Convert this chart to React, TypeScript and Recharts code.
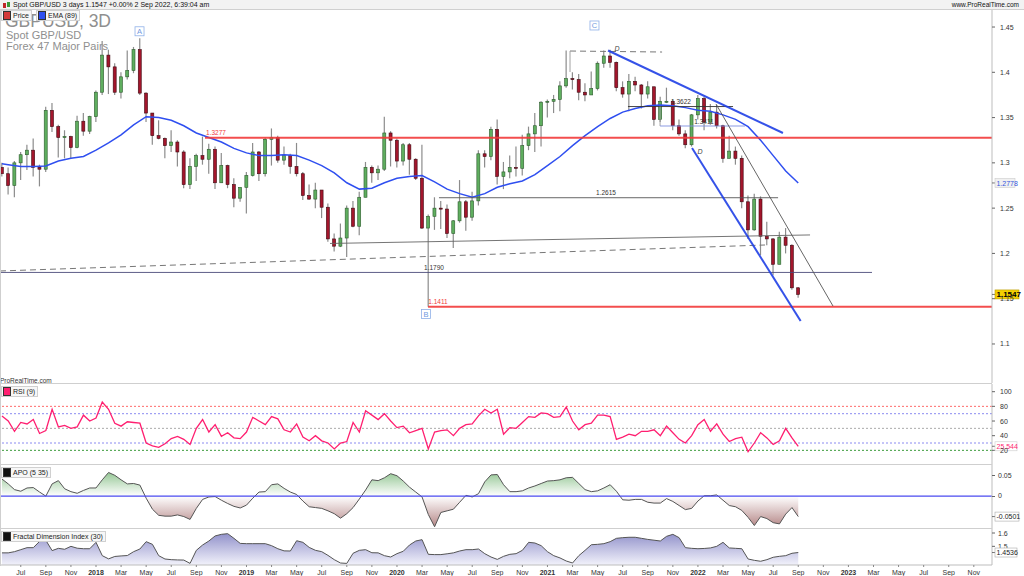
import React from 'react';
import { ComposedChart, Bar, Line, Area, XAxis, YAxis, ReferenceLine, ReferenceDot } from 'recharts';

// time axis: months since Jan 2017, one candle per half month
const T0 = 4.5;
const STEP = 0.5;
const XMIN = 4.344;
const XMAX = 83.45;

const opens = [
  1.295, 1.288, 1.275, 1.300, 1.309, 1.314, 1.295, 1.293, 1.358, 1.340, 1.328, 1.329, 1.317, 1.346, 1.335,
  1.351, 1.378, 1.419, 1.406, 1.378, 1.395, 1.402, 1.425, 1.377, 1.355, 1.330, 1.327, 1.319, 1.323, 1.312, 1.276, 1.296, 1.308, 1.304, 1.315, 1.278, 1.297, 1.276, 1.261,
  1.273, 1.286, 1.312, 1.288, 1.326, 1.328, 1.303, 1.308, 1.296, 1.288, 1.264, 1.260, 1.270, 1.251, 1.216, 1.208, 1.217, 1.250, 1.230, 1.262, 1.295, 1.289, 1.293, 1.333,
  1.325, 1.302, 1.320, 1.304, 1.283, 1.228, 1.241, 1.250, 1.249, 1.222, 1.236, 1.257, 1.240, 1.258, 1.310, 1.307, 1.337, 1.285, 1.290, 1.295, 1.294, 1.319, 1.332, 1.341,
  1.367, 1.368, 1.370, 1.385, 1.393, 1.392, 1.378, 1.375, 1.382, 1.410, 1.418, 1.411, 1.383, 1.376, 1.390, 1.386, 1.376, 1.384, 1.348, 1.368, 1.368, 1.341, 1.332, 1.320,
  1.353, 1.371, 1.345, 1.356, 1.341, 1.305, 1.313, 1.305, 1.257, 1.226, 1.260, 1.219, 1.216, 1.188, 1.218, 1.209, 1.162,
];
const highs = [
  1.300, 1.295, 1.302, 1.312, 1.320, 1.327, 1.298, 1.362, 1.366, 1.342, 1.336, 1.330, 1.352, 1.355, 1.352,
  1.380, 1.4345, 1.425, 1.410, 1.400, 1.424, 1.428, 1.4377, 1.378, 1.355, 1.347, 1.328, 1.336, 1.325, 1.314, 1.305, 1.310, 1.329, 1.321, 1.318, 1.311, 1.298, 1.283, 1.272,
  1.290, 1.322, 1.313, 1.328, 1.338, 1.330, 1.318, 1.310, 1.322, 1.290, 1.276, 1.278, 1.270, 1.255, 1.222, 1.233, 1.253, 1.258, 1.268, 1.301, 1.297, 1.297, 1.351, 1.335,
  1.327, 1.322, 1.322, 1.305, 1.320, 1.243, 1.262, 1.258, 1.254, 1.237, 1.281, 1.259, 1.268, 1.314, 1.314, 1.340, 1.348, 1.301, 1.308, 1.318, 1.331, 1.340, 1.355, 1.368,
  1.370, 1.375, 1.390, 1.4241, 1.400, 1.398, 1.388, 1.401, 1.412, 1.424, 1.4249, 1.412, 1.390, 1.398, 1.395, 1.387, 1.390, 1.384, 1.373, 1.383, 1.370, 1.348, 1.336, 1.354,
  1.3749, 1.373, 1.365, 1.364, 1.342, 1.330, 1.318, 1.308, 1.264, 1.266, 1.263, 1.235, 1.217, 1.224, 1.228, 1.210, 1.163,
];
const lows = [
  1.285, 1.265, 1.262, 1.281, 1.292, 1.285, 1.274, 1.290, 1.334, 1.306, 1.305, 1.305, 1.316, 1.330, 1.332,
  1.345, 1.375, 1.376, 1.375, 1.371, 1.392, 1.399, 1.375, 1.345, 1.320, 1.326, 1.305, 1.312, 1.296, 1.272, 1.271, 1.280, 1.298, 1.288, 1.271, 1.278, 1.272, 1.251, 1.257,
  1.244, 1.285, 1.280, 1.285, 1.297, 1.300, 1.298, 1.288, 1.285, 1.259, 1.259, 1.250, 1.239, 1.213, 1.202, 1.207, 1.196, 1.229, 1.220, 1.262, 1.278, 1.281, 1.291, 1.296,
  1.295, 1.297, 1.287, 1.281, 1.227, 1.1411, 1.226, 1.227, 1.217, 1.206, 1.234, 1.225, 1.236, 1.253, 1.295, 1.303, 1.276, 1.271, 1.283, 1.285, 1.286, 1.314, 1.312, 1.318,
  1.350, 1.355, 1.357, 1.383, 1.381, 1.369, 1.368, 1.375, 1.380, 1.405, 1.405, 1.379, 1.372, 1.357, 1.379, 1.360, 1.371, 1.341, 1.345, 1.366, 1.336, 1.330, 1.316, 1.318,
  1.348, 1.336, 1.342, 1.338, 1.300, 1.305, 1.298, 1.250, 1.216, 1.225, 1.198, 1.209, 1.176, 1.188, 1.200, 1.160, 1.151,
];
const closes = [
  1.288, 1.275, 1.300, 1.309, 1.314, 1.295, 1.293, 1.358, 1.340, 1.328, 1.329, 1.317, 1.346, 1.335, 1.351,
  1.378, 1.419, 1.406, 1.378, 1.395, 1.402, 1.425, 1.377, 1.355, 1.330, 1.327, 1.319, 1.323, 1.312, 1.276, 1.296, 1.308, 1.304, 1.315, 1.278, 1.297, 1.276, 1.261, 1.273,
  1.286, 1.312, 1.288, 1.326, 1.328, 1.303, 1.308, 1.296, 1.288, 1.264, 1.260, 1.270, 1.251, 1.216, 1.208, 1.217, 1.250, 1.230, 1.262, 1.295, 1.289, 1.293, 1.333, 1.325,
  1.302, 1.320, 1.304, 1.283, 1.228, 1.241, 1.250, 1.249, 1.222, 1.236, 1.257, 1.240, 1.258, 1.310, 1.307, 1.337, 1.285, 1.290, 1.295, 1.294, 1.319, 1.332, 1.341, 1.367,
  1.368, 1.370, 1.385, 1.393, 1.392, 1.378, 1.375, 1.382, 1.410, 1.418, 1.411, 1.383, 1.376, 1.390, 1.386, 1.376, 1.384, 1.348, 1.368, 1.368, 1.341, 1.332, 1.320, 1.353,
  1.371, 1.345, 1.356, 1.341, 1.305, 1.313, 1.305, 1.257, 1.226, 1.260, 1.219, 1.216, 1.188, 1.218, 1.209, 1.162, 1.1547,
];

// EMA(89), read once a month (t = 5 .. 68), plus first point at t = 4.5
const emaFirst = 1.299;
const emaMonthly = [
  1.298, 1.296, 1.296, 1.2965, 1.302, 1.305, 1.307,
  1.314, 1.322, 1.331, 1.342, 1.351, 1.350, 1.347, 1.341, 1.333, 1.328, 1.323, 1.316,
  1.311, 1.308, 1.308, 1.309, 1.308, 1.303, 1.297, 1.289, 1.278, 1.271, 1.272, 1.278,
  1.283, 1.285, 1.286, 1.279, 1.271, 1.266, 1.262, 1.266, 1.273, 1.277, 1.280, 1.287,
  1.297, 1.307, 1.319, 1.330, 1.340, 1.349, 1.356, 1.360, 1.363, 1.364, 1.363, 1.361,
  1.358, 1.357, 1.353, 1.348, 1.340, 1.325, 1.308, 1.291, 1.2778,
];

const rsi = [
  67, 60, 46, 58, 56, 62, 43, 47, 76, 52, 54, 50, 52, 68, 60, 64, 86, 76, 57, 53,
  59, 58, 57, 30, 26, 24, 29, 36, 39, 35, 28, 50, 62, 45, 55, 39, 44, 37, 36, 45,
  65, 60, 55, 66, 63, 48, 45, 56, 38, 33, 40, 33, 30, 22, 30, 32, 58, 45, 74, 68,
  62, 70, 60, 51, 53, 44, 47, 50, 22, 45, 47, 48, 40, 50, 55, 56, 67, 76, 71, 76,
  42, 51, 50, 58, 66, 65, 71, 70, 65, 66, 79, 60, 48, 55, 57, 68, 68, 66, 35, 38,
  42, 40, 46, 46, 48, 40, 53, 44, 35, 30, 40, 55, 62, 46, 56, 42, 32, 36, 38, 18,
  30, 44, 37, 28, 33, 50, 37, 25.544,
];
const apo = [
  0.042, 0.030, 0.016, 0.012, 0.020, 0.021, 0.010, 0.000, 0.030, 0.038,
  0.018, 0.011, 0.007, 0.014, 0.020, 0.020, 0.040, 0.058, 0.051, 0.040,
  0.030, 0.031, 0.027, -0.005, -0.032, -0.047, -0.049, -0.049, -0.046, -0.050,
  -0.057, -0.030, -0.008, -0.002, -0.001, -0.010, -0.018, -0.025, -0.029, -0.022,
  -0.005, 0.010, 0.011, 0.028, 0.030, 0.019, 0.010, 0.004, -0.012, -0.026,
  -0.028, -0.030, -0.036, -0.043, -0.054, -0.043, -0.028, -0.007, 0.015, 0.040,
  0.038, 0.045, 0.055, 0.050, 0.037, 0.022, 0.010, -0.002, -0.045, -0.075,
  -0.040, -0.036, -0.032, -0.015, 0.002, -0.002, 0.006, 0.035, 0.052, 0.053,
  0.028, 0.011, 0.011, 0.013, 0.020, 0.025, 0.031, 0.037, 0.038, 0.040,
  0.045, 0.046, 0.031, 0.016, 0.011, 0.013, 0.020, 0.028, 0.012, -0.009,
  -0.010, -0.008, -0.008, -0.015, -0.017, -0.017, -0.006, -0.013, -0.023, -0.033,
  -0.030, -0.012, 0.001, 0.001, 0.003, -0.010, -0.023, -0.026, -0.035, -0.052,
  -0.072, -0.050, -0.055, -0.065, -0.068, -0.044, -0.028, -0.0501,
];
const fdi = [
  1.451, 1.451, 1.460, 1.475, 1.490, 1.490, 1.537, 1.545, 1.468, 1.485,
  1.478, 1.500, 1.486, 1.482, 1.482, 1.530, 1.430, 1.406, 1.424, 1.428,
  1.431, 1.460, 1.480, 1.535, 1.515, 1.430, 1.405, 1.400, 1.398, 1.397,
  1.372, 1.470, 1.510, 1.540, 1.578, 1.590, 1.595, 1.560, 1.522, 1.520,
  1.520, 1.520, 1.520, 1.505, 1.482, 1.466, 1.465, 1.542, 1.530, 1.492,
  1.470, 1.460, 1.432, 1.400, 1.375, 1.372, 1.448, 1.470, 1.475, 1.452,
  1.451, 1.430, 1.420, 1.445, 1.463, 1.510, 1.540, 1.550, 1.440, 1.438,
  1.438, 1.444, 1.451, 1.465, 1.475, 1.475, 1.480, 1.445, 1.420, 1.402,
  1.425, 1.440, 1.445, 1.470, 1.530, 1.525, 1.505, 1.460, 1.430, 1.413,
  1.390, 1.375, 1.430, 1.470, 1.512, 1.515, 1.520, 1.535, 1.560, 1.565,
  1.568, 1.568, 1.560, 1.552, 1.546, 1.540, 1.575, 1.590, 1.565, 1.490,
  1.485, 1.482, 1.484, 1.488, 1.500, 1.530, 1.488, 1.485, 1.482, 1.405,
  1.395, 1.388, 1.400, 1.418, 1.425, 1.430, 1.448, 1.4536,
];

const xTicks = Array.from({ length: 39 }, (_, i) => 6 + i * 2);
const xTickLabels = [
  'Jul', 'Sep', 'Nov',
  '2018', 'Mar', 'May', 'Jul', 'Sep', 'Nov',
  '2019', 'Mar', 'May', 'Jul', 'Sep', 'Nov',
  '2020', 'Mar', 'May', 'Jul', 'Sep', 'Nov',
  '2021', 'Mar', 'May', 'Jul', 'Sep', 'Nov',
  '2022', 'Mar', 'May', 'Jul', 'Sep', 'Nov',
  '2023', 'Mar', 'May', 'Jul', 'Sep', 'Nov',
];
const priceTicks = [1.1, 1.15, 1.2, 1.25, 1.3, 1.35, 1.4, 1.45];
const rsiTicks = [20, 40, 60, 80, 100];
const apoTicks = [0.05, 0];
const apoTickLabels = ['0.05', '0'];
const fdiTicks = [1.6, 1.5];
const fdiTickLabels = ['1.6', '1.5'];

// panel geometry (pixels) and value domains
const APO_TOP = 465;
const APO_H = 64;
const APO_DOMAIN: [number, number] = [-0.0805, 0.0763];

// drawn annotations (time in months since Jan 2017, price)
const solidLines = [
  { x1: 20.69, y1: 1.3277, x2: XMAX, y2: 1.3277, color: '#f23a3a', w: 2 },
  { x1: 38.48, y1: 1.1411, x2: XMAX, y2: 1.1411, color: '#f23a3a', w: 2 },
  { x1: XMIN, y1: 1.179, x2: 73.88, y2: 1.179, color: '#4a4a7a', w: 1 },
  { x1: 39.35, y1: 1.2615, x2: 66.39, y2: 1.2615, color: '#555555', w: 1 },
  { x1: 30.66, y1: 1.211, x2: 68.94, y2: 1.2204, color: '#666666', w: 1 },
  { x1: 54.42, y1: 1.3622, x2: 62.8, y2: 1.3622, color: '#333333', w: 1 },
  { x1: 56.98, y1: 1.3622, x2: 56.98, y2: 1.3407, color: '#999999', w: 1 },
  { x1: 56.98, y1: 1.3407, x2: 63.75, y2: 1.3407, color: '#7f8fe0', w: 1 },
  { x1: 49.8, y1: 1.4235, x2: 49.8, y2: 1.4003, color: '#999999', w: 1 },
  { x1: 52.83, y1: 1.4241, x2: 66.78, y2: 1.333, color: '#1f3fe6', w: 2 },
  { x1: 59.53, y1: 1.3164, x2: 68.19, y2: 1.1254, color: '#1f3fe6', w: 2 },
  { x1: 61.44, y1: 1.365, x2: 70.77, y2: 1.1419, color: '#555555', w: 1 },
];
const dashedLines = [
  { x1: XMIN, y1: 1.1806, x2: 65.35, y2: 1.2093 },
  { x1: 49.8, y1: 1.4235, x2: 57.14, y2: 1.4224 },
];
const levelLabels = [
  { t: 21.57, p: 1.3277, text: '1.3277', color: '#f23a3a' },
  { t: 39.27, p: 1.1411, text: '1.1411', color: '#f23a3a' },
  { t: 38.95, p: 1.179, text: '1.1790', color: '#333333' },
  { t: 52.67, p: 1.2615, text: '1.2615', color: '#333333' },
  { t: 58.65, p: 1.3622, text: '1.3622', color: '#333333' },
  { t: 60.48, p: 1.3407, text: '1.3411', color: '#333333' },
];
const waveBoxes = [
  { t: 15.47, p: 1.4453, text: 'A' },
  { t: 38.32, p: 1.1331, text: 'B' },
  { t: 51.75, p: 1.4517, text: 'C' },
];
const waveMarks = [
  { t: 53.55, p: 1.4268, text: 'D' },
  { t: 60.16, p: 1.312, text: 'D' },
];

const FONT = '"Liberation Sans", Arial, sans-serif';

const priceRows = opens.map((o, i) => {
  const t = T0 + STEP * i;
  let ema: number | undefined;
  if (i === 0) ema = emaFirst;
  else if (Number.isInteger(t)) ema = emaMonthly[t - 5];
  return { t, open: o, high: highs[i], low: lows[i], close: closes[i], range: [lows[i], highs[i]], ema };
});
const rsiRows = rsi.map((v, i) => ({ t: T0 + STEP * i, v }));
const apoRows = apo.map((v, i) => ({ t: T0 + STEP * i, v }));
const fdiRows = fdi.map((v, i) => ({ t: T0 + STEP * i, v }));

const apoMax = Math.max(...apo);
const apoMin = Math.min(...apo);
const apoOff = apoMax / (apoMax - apoMin);
const apoScale = (v: number) => APO_TOP + ((APO_DOMAIN[1] - v) / (APO_DOMAIN[1] - APO_DOMAIN[0])) * APO_H;

const Candle = (props: any) => {
  const { x, y, width, height, payload } = props;
  if (!payload) return null;
  const { open, close, high, low } = payload;
  const top = Math.min(y, y + height);
  const h = Math.abs(height);
  const k = high - low > 0 ? h / (high - low) : 0;
  const yO = top + (high - open) * k;
  const yC = top + (high - close) * k;
  const cx = x + width / 2;
  const up = close >= open;
  const bw = 3;
  return (
    <g>
      <line x1={cx} x2={cx} y1={top} y2={top + h} stroke="#8c8c8c" strokeWidth={1.2} />
      <rect
        x={cx - bw / 2}
        y={Math.min(yO, yC)}
        width={bw}
        height={Math.max(1, Math.abs(yC - yO))}
        fill={up ? '#5fae5f' : '#a3162c'}
        stroke={up ? '#2c5a2c' : '#3e0810'}
        strokeWidth={0.6}
      />
    </g>
  );
};

const YTick = (fmt?: (v: number) => string) => (p: any) => (
  <text x={p.x + 3} y={p.y + 2.5} fontSize={7} fill="#333" fontFamily={FONT}>
    {fmt ? fmt(p.payload.value) : String(p.payload.value)}
  </text>
);

const axisTickMark = (text: string) => (p: any) => (
  <g>
    <line x1={p.cx} x2={p.cx + 3} y1={p.cy} y2={p.cy} stroke="#666" strokeWidth={1} />
    <text x={p.cx + 6} y={p.cy + 2.5} fontSize={7} fill="#333" fontFamily={FONT}>
      {text}
    </text>
  </g>
);

const XTick = (p: any) => {
  const idx = xTicks.indexOf(p.payload.value);
  const label = xTickLabels[idx] ?? '';
  const bold = /^\d{4}$/.test(label);
  return (
    <text x={p.x} y={p.y + 6} textAnchor="middle" fontSize={7} fontWeight={bold ? 700 : 400} fill="#333" fontFamily={FONT}>
      {label}
    </text>
  );
};

const axisBox = (text: string, bg: string, color: string, border: string, bold = false, w = 24) => (p: any) => (
  <g>
    <line x1={p.cx} x2={p.cx + 3} y1={p.cy} y2={p.cy} stroke="#555" strokeWidth={0.8} />
    <rect x={p.cx + 3} y={p.cy - 4.5} width={w} height={9} fill={bg} stroke={border} strokeWidth={0.6} />
    <text x={p.cx + 4.5} y={p.cy + 2.6} fontSize={bold ? 8 : 7} fontWeight={bold ? 700 : 400} fill={color} fontFamily={FONT}>
      {text}
    </text>
  </g>
);

const yAxisCommon = {
  orientation: 'right' as const,
  width: 32,
  tickSize: 3,
  tickLine: { stroke: '#666' },
  axisLine: { stroke: '#bdbdbd' },
  interval: 0 as const,
  allowDataOverflow: true,
};

const Legend = ({ left, top, color, text }: { left: number; top: number; color: string; text: string }) => (
  <div
    style={{
      position: 'absolute', left, top, height: 9, padding: '0 2px 0 1px', border: '1px solid #d0d0d0', background: '#f7f7f7',
      display: 'flex', alignItems: 'center', fontSize: 7, color: '#222', fontFamily: FONT, lineHeight: '9px', whiteSpace: 'nowrap',
    }}
  >
    <span style={{ display: 'inline-block', width: 6, height: 7, background: color, marginRight: 2, border: '0.5px solid #333' }} />
    {text}
  </div>
);

export default function App() {
  return (
    <div style={{ position: 'fixed', left: 0, top: 0, width: 1024, height: 576, background: '#fff', overflow: 'hidden', fontFamily: FONT }}>
      {/* header strip */}
      <div style={{ position: 'absolute', left: 0, top: 0, width: 1024, height: 9, background: '#f2f2f2', borderBottom: '1px solid #cfcfcf' }} />
      <svg style={{ position: 'absolute', left: 2, top: 1 }} width={10} height={8}>
        <rect x={1} y={2} width={3} height={5} fill="#c0282a" />
        <rect x={5} y={1} width={3} height={5} fill="#3a9a3a" />
      </svg>
      <div style={{ position: 'absolute', left: 13, top: 0, fontSize: 7, lineHeight: '9px', color: '#111', whiteSpace: 'nowrap' }}>
        Spot GBP/USD 3 days 1.1547 +0.00% 2 Sep 2022, 6:39:04 am
      </div>
      <div style={{ position: 'absolute', right: 5, top: 0, fontSize: 6.5, lineHeight: '9px', color: '#111', whiteSpace: 'nowrap' }}>
        www.ProRealTime.com
      </div>

      {/* watermark */}
      <div style={{ position: 'absolute', left: 5, top: 11, fontSize: 17.5, color: '#8f8f8f', whiteSpace: 'nowrap', lineHeight: '20px' }}>GBPUSD, 3D</div>
      <div style={{ position: 'absolute', left: 6, top: 29, fontSize: 11, color: '#8f8f8f', whiteSpace: 'nowrap', lineHeight: '12px' }}>Spot GBP/USD</div>
      <div style={{ position: 'absolute', left: 6, top: 40, fontSize: 11, color: '#8f8f8f', whiteSpace: 'nowrap', lineHeight: '12px' }}>Forex 47 Major Pairs</div>

      {/* main price panel */}
      <div style={{ position: 'absolute', left: 0, top: 10 }}>
        <ComposedChart width={1024} height={373} data={priceRows} margin={{ top: 0, right: 0, bottom: 0, left: 0 }}>
          <XAxis dataKey="t" type="number" domain={[XMIN, XMAX]} hide allowDataOverflow />
          <YAxis {...yAxisCommon} domain={[1.0569, 1.4688]} ticks={priceTicks} tick={YTick((v) => String(v))} />
          <Bar dataKey="range" barSize={4} shape={Candle} isAnimationActive={false} />
          <Line dataKey="ema" stroke="#2f4ff0" strokeWidth={1.5} dot={false} connectNulls isAnimationActive={false} />
          {dashedLines.map((l, i) => (
            <ReferenceLine key={'d' + i} segment={[{ x: l.x1, y: l.y1 }, { x: l.x2, y: l.y2 }]} stroke="#777" strokeWidth={1} strokeDasharray="6 4" ifOverflow="visible" />
          ))}
          {solidLines.map((l, i) => (
            <ReferenceLine key={'s' + i} segment={[{ x: l.x1, y: l.y1 }, { x: l.x2, y: l.y2 }]} stroke={l.color} strokeWidth={l.w} strokeOpacity={0.9} ifOverflow="visible" />
          ))}
          {levelLabels.map((l, i) => (
            <ReferenceDot
              key={'l' + i}
              x={l.t}
              y={l.p}
              r={0}
              ifOverflow="visible"
              shape={(p: any) => (
                <text x={p.cx} y={p.cy - 2.5} textAnchor="middle" fontSize={6.5} fill={l.color} fontFamily={FONT}>
                  {l.text}
                </text>
              )}
            />
          ))}
          {waveBoxes.map((l, i) => (
            <ReferenceDot
              key={'w' + i}
              x={l.t}
              y={l.p}
              r={0}
              ifOverflow="visible"
              shape={(p: any) => (
                <g>
                  <rect x={p.cx - 4.5} y={p.cy - 4.5} width={9} height={9} fill="#fff" stroke="#8fb0e8" strokeWidth={0.8} />
                  <text x={p.cx} y={p.cy + 3} textAnchor="middle" fontSize={7.5} fill="#6f9ae0" fontFamily={FONT}>
                    {l.text}
                  </text>
                </g>
              )}
            />
          ))}
          {waveMarks.map((l, i) => (
            <ReferenceDot
              key={'m' + i}
              x={l.t}
              y={l.p}
              r={0}
              ifOverflow="visible"
              shape={(p: any) => (
                <text x={p.cx} y={p.cy + 2.5} textAnchor="middle" fontSize={7} fontStyle="italic" fill="#444" fontFamily={FONT}>
                  {l.text}
                </text>
              )}
            />
          ))}
          <ReferenceDot x={XMAX} y={1.2778} r={0} ifOverflow="visible" shape={axisBox('1.2778', '#f0f0f0', '#3355dd', '#cccccc', false, 20)} />
          <ReferenceDot x={XMAX} y={1.1547} r={0} ifOverflow="visible" shape={axisBox('1.1547', '#f5d000', '#000', '#b89c00', true, 24)} />
        </ComposedChart>
      </div>
      <div style={{ position: 'absolute', left: 0, top: 377, fontSize: 6.5, color: '#333', lineHeight: '7px', whiteSpace: 'nowrap' }}>ProRealTime.com</div>

      {/* RSI panel */}
      <div style={{ position: 'absolute', left: 0, top: 384 }}>
        <ComposedChart width={1024} height={81} data={rsiRows} margin={{ top: 0, right: 0, bottom: 0, left: 0 }}>
          <XAxis dataKey="t" type="number" domain={[XMIN, XMAX]} hide allowDataOverflow />
          <YAxis {...yAxisCommon} domain={[0, 110.5]} ticks={rsiTicks} tick={YTick()} />
          <ReferenceLine y={80} stroke="#ff6a6a" strokeDasharray="2 2" />
          <ReferenceLine y={70} stroke="#8a8af0" strokeDasharray="2 2" />
          <ReferenceLine y={50} stroke="#aaaaaa" strokeDasharray="2 2" />
          <ReferenceLine y={30} stroke="#8a8af0" strokeDasharray="2 2" />
          <ReferenceLine y={20} stroke="#3a9a3a" strokeDasharray="2 2" />
          <Line dataKey="v" stroke="#ff1f70" strokeWidth={1.3} dot={false} isAnimationActive={false} />
          <ReferenceDot x={XMAX} y={25.544} r={0} ifOverflow="visible" shape={axisBox('25.544', '#fff', '#ff1f70', '#cccccc', false, 22)} />
        </ComposedChart>
      </div>

      {/* APO panel */}
      <div style={{ position: 'absolute', left: 0, top: APO_TOP }}>
        <ComposedChart width={1024} height={APO_H} data={apoRows} margin={{ top: 0, right: 0, bottom: 0, left: 0 }}>
          <defs>
            <linearGradient id="apoGrad" x1="0" y1="0" x2="0" y2="1">
              <stop offset={0} stopColor="#8fc48f" stopOpacity={0.95} />
              <stop offset={apoOff} stopColor="#ffffff" stopOpacity={0.9} />
              <stop offset={1} stopColor="#b07f7f" stopOpacity={0.95} />
            </linearGradient>
          </defs>
          <XAxis dataKey="t" type="number" domain={[XMIN, XMAX]} hide allowDataOverflow />
          <YAxis {...yAxisCommon} domain={APO_DOMAIN} ticks={apoTicks} tick={false} tickLine={false} />
          <Area dataKey="v" baseValue={0} stroke="#555" strokeWidth={1} fill="url(#apoGrad)" fillOpacity={1} dot={false} isAnimationActive={false} />
          <ReferenceLine y={0} stroke="#4b4bf0" strokeWidth={1.2} />
          <ReferenceDot x={XMAX} y={-0.0501} r={0} ifOverflow="visible" shape={axisBox('-0.0501', '#fff', '#222', '#aaaaaa', false, 24)} />
        </ComposedChart>
      </div>
      {apoTicks.map((v, i) => (
        <div key={'at' + i} style={{ position: 'absolute', left: 992, top: apoScale(v) - 4, height: 8, display: 'flex', alignItems: 'center', zIndex: 5 }}>
          <span style={{ display: 'inline-block', width: 3, height: 1, background: '#666', marginRight: 3 }} />
          <span style={{ fontSize: 7, color: '#333', lineHeight: '8px' }}>{apoTickLabels[i]}</span>
        </div>
      ))}

      {/* Fractal Dimension panel */}
      <div style={{ position: 'absolute', left: 0, top: 529 }}>
        <ComposedChart width={1024} height={47} data={fdiRows} margin={{ top: 0, right: 0, bottom: 0, left: 0 }}>
          <defs>
            <linearGradient id="fdiGrad" x1="0" y1="0" x2="0" y2="1">
              <stop offset={0} stopColor="#8c8cc8" stopOpacity={0.95} />
              <stop offset={1} stopColor="#f0f0fa" stopOpacity={0.9} />
            </linearGradient>
          </defs>
          <XAxis
            dataKey="t"
            type="number"
            domain={[XMIN, XMAX]}
            ticks={xTicks}
            interval={0}
            height={11}
            tickSize={2}
            tickLine={{ stroke: '#888' }}
            axisLine={{ stroke: '#bdbdbd' }}
            tick={XTick}
            allowDataOverflow
          />
          <YAxis {...yAxisCommon} domain={[1.36, 1.63]} ticks={fdiTicks} tick={false} tickLine={false} />
          <Area dataKey="v" baseValue="dataMin" stroke="#555" strokeWidth={1} fill="url(#fdiGrad)" fillOpacity={1} dot={false} isAnimationActive={false} />
          {fdiTicks.map((v, i) => (
            <ReferenceDot key={'ft' + i} x={XMAX} y={v} r={0} ifOverflow="visible" shape={axisTickMark(fdiTickLabels[i])} />
          ))}
          <ReferenceDot x={XMAX} y={1.4536} r={0} ifOverflow="visible" shape={axisBox('1.4536', '#fff', '#222', '#aaaaaa', false, 22)} />
        </ComposedChart>
      </div>

      {/* panel separators */}
      <div style={{ position: 'absolute', left: 0, top: 383, width: 992, height: 1, background: '#cfcfcf' }} />
      <div style={{ position: 'absolute', left: 0, top: 464, width: 992, height: 1, background: '#cfcfcf' }} />
      <div style={{ position: 'absolute', left: 0, top: 528, width: 992, height: 1, background: '#cfcfcf' }} />
      <div style={{ position: 'absolute', left: 0, top: 10, width: 1, height: 556, background: '#cfcfcf' }} />

      <Legend left={1} top={10} color="#d43a3a" text="Price" />
      <Legend left={36} top={10} color="#2f4ff0" text="EMA (89)" />
      <Legend left={1} top={386} color="#ff1f70" text="RSI (9)" />
      <Legend left={1} top={467} color="#111" text="APO (5 35)" />
      <Legend left={1} top={531} color="#111" text="Fractal Dimension Index (30)" />
    </div>
  );
}
